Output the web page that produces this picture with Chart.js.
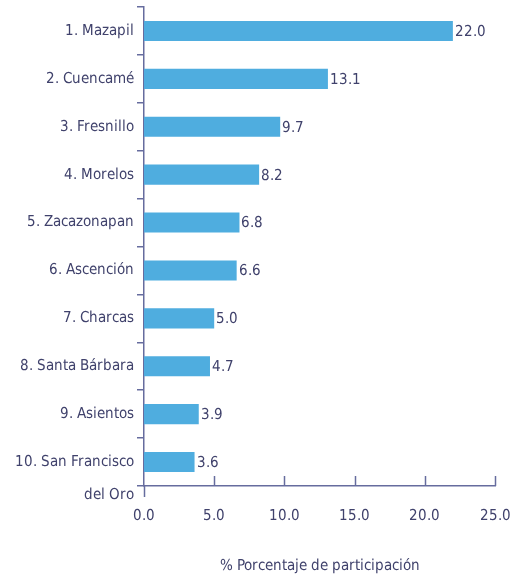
<!DOCTYPE html>
<html>
<head>
<meta charset="utf-8">
<script src="https://cdn.jsdelivr.net/npm/chart.js@4.4.1/dist/chart.umd.min.js"></script>
<style>
  @font-face {
    font-family: 'NarrowSans';
    src: local('Liberation Sans Narrow'), local('LiberationSansNarrow-Regular'),
         local('DejaVu Sans Condensed'), local('DejaVuSansCondensed');
  }
  html, body { margin: 0; padding: 0; background: #fff; }
  #wrap { width: 513px; height: 581px; }
</style>
</head>
<body>
<div id="wrap"><canvas id="munChart" width="513" height="581"></canvas></div>
<script>
const categories = [
  '1. Mazapil', '2. Cuencamé', '3. Fresnillo', '4. Morelos', '5. Zacazonapan',
  '6. Ascención', '7. Charcas', '8. Santa Bárbara', '9. Asientos', '10. San Francisco\ndel Oro'
];
const participacion = [22.0, 13.1, 9.7, 8.2, 6.8, 6.6, 5.0, 4.7, 3.9, 3.6];
const xTicks = [0, 5, 10, 15, 20, 25];

const FONT = "NarrowSans, 'Liberation Sans', sans-serif";
const FSIZE = 15;
const TEXT = '#40426c';
const AXIS = '#666c9e';

// multi-line labels: blank first line so the first row sits on the bar
const labels = categories.map(c => c.includes('\n') ? ['', ...c.split('\n')] : c);

// x ticks drawn upward into the plot, the zero one hangs down
const xTickMarks = {
  id: 'xTickMarks',
  afterDraw(chart) {
    const { ctx, chartArea, scales } = chart;
    ctx.save();
    ctx.strokeStyle = AXIS;
    ctx.lineWidth = 1.5;
    xTicks.forEach(v => {
      const x = Math.round(scales.x.getPixelForValue(v)) + 0.5;
      ctx.beginPath();
      if (v === 0) {
        ctx.moveTo(x, chartArea.bottom);
        ctx.lineTo(x, chartArea.bottom + 11);
      } else {
        ctx.moveTo(x, chartArea.bottom);
        ctx.lineTo(x, chartArea.bottom - 10);
      }
      ctx.stroke();
    });
    ctx.restore();
  }
};

const valueLabels = {
  id: 'valueLabels',
  afterDatasetsDraw(chart) {
    const { ctx } = chart;
    const meta = chart.getDatasetMeta(0);
    ctx.save();
    ctx.font = FSIZE + 'px ' + FONT;
    ctx.fillStyle = TEXT;
    ctx.textAlign = 'left';
    ctx.textBaseline = 'middle';
    meta.data.forEach((bar, i) => {
      ctx.fillText(participacion[i].toFixed(1), bar.x + 2, bar.y + 1);
    });
    ctx.restore();
  }
};

function draw() {
  new Chart(document.getElementById('munChart'), {
    type: 'bar',
    data: {
      labels,
      datasets: [{
        data: participacion,
        backgroundColor: '#4faddf',
        borderColor: '#4faddf',
        borderWidth: 0,
        categoryPercentage: 1,
        barPercentage: 0.42
      }]
    },
    options: {
      indexAxis: 'y',
      responsive: false,
      animation: false,
      layout: { padding: { left: 0, right: 18, top: 7, bottom: 6 } },
      plugins: {
        legend: { display: false },
        tooltip: { enabled: false }
      },
      scales: {
        x: {
          min: 0,
          max: 25,
          afterBuildTicks: s => { s.ticks = xTicks.map(v => ({ value: v })); },
          afterFit: s => { s.height = 89; s.paddingLeft = 0; s.paddingRight = 0; },
          grid: { display: false, drawTicks: false },
          border: { display: true, color: AXIS, width: 1.5 },
          ticks: {
            padding: 21,
            color: TEXT,
            font: { family: FONT, size: FSIZE },
            callback: v => v.toFixed(1),
            maxRotation: 0
          },
          title: {
            display: true,
            text: '% Porcentaje de participación',
            color: TEXT,
            font: { family: FONT, size: FSIZE },
            padding: { top: 28, bottom: 0 }
          }
        },
        y: {
          afterFit: s => { s.width = 144; s.paddingTop = 0; s.paddingBottom = 0; },
          grid: {
            offset: true,
            drawOnChartArea: false,
            tickLength: 7,
            color: AXIS,
            lineWidth: 1.5
          },
          border: { display: true, color: AXIS, width: 1.5 },
          ticks: {
            padding: 3,
            color: TEXT,
            font: { family: FONT, size: FSIZE, lineHeight: 2.2 },
            autoSkip: false
          }
        }
      }
    },
    plugins: [xTickMarks, valueLabels]
  });
}

document.fonts.load(FSIZE + 'px NarrowSans').then(draw, draw);
</script>
</body>
</html>
